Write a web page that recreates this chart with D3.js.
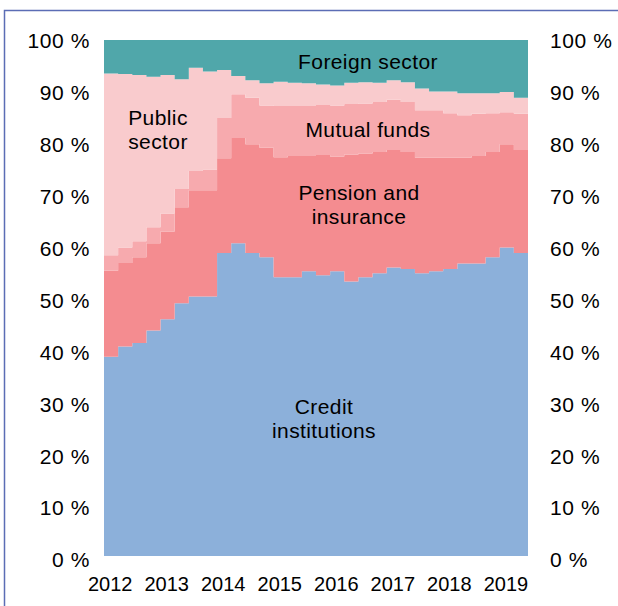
<!DOCTYPE html>
<html>
<head>
<meta charset="utf-8">
<script src="https://cdn.jsdelivr.net/npm/d3@7"></script>
<style>
  body { margin: 0; background: #fff; }
  svg { display: block; }
  text { font-family: "Liberation Sans", Arial, sans-serif; fill: #000; }
</style>
</head>
<body>
<svg id="chart" width="618" height="606"></svg>
<script>
// Quarterly holdings by sector, share of total (%), 2012Q1 – 2019Q2
const quarters = [
  "2012Q1","2012Q2","2012Q3","2012Q4","2013Q1","2013Q2","2013Q3","2013Q4",
  "2014Q1","2014Q2","2014Q3","2014Q4","2015Q1","2015Q2","2015Q3","2015Q4",
  "2016Q1","2016Q2","2016Q3","2016Q4","2017Q1","2017Q2","2017Q3","2017Q4",
  "2018Q1","2018Q2","2018Q3","2018Q4","2019Q1","2019Q2"
];
const yearLabels = ["2012","2013","2014","2015","2016","2017","2018","2019"];
const yTicks = [0,10,20,30,40,50,60,70,80,90,100];

const creditInstitutions = [38.6,40.6,41.3,43.7,45.9,49.0,50.3,50.3,58.7,60.6,58.7,57.9,54.0,54.0,55.2,54.4,55.2,53.2,54.0,54.8,55.9,55.6,54.8,55.2,55.6,56.7,56.7,57.9,59.8,58.7];
const pensionInsurance   = [16.7,16.2,16.6,16.9,17.0,18.6,20.6,20.6,18.4,20.4,21.1,21.2,23.3,23.5,22.3,23.3,22.2,24.6,24.0,23.5,22.8,22.7,22.4,22.0,21.6,20.5,20.8,20.4,20.0,20.0];
const mutualFunds        = [ 3.0, 3.0, 3.1, 3.1, 3.5, 3.5, 3.7, 4.0, 7.8, 8.5, 9.0, 8.2, 9.9, 9.7, 9.7, 9.7, 9.9, 9.8, 9.7, 9.7, 9.7, 9.7, 9.2, 9.2, 8.6, 8.2, 8.2, 7.5, 6.2, 7.0];
const publicSector       = [35.2,33.6,32.2,29.2,26.8,21.3,20.0,19.0, 9.3, 3.5, 3.4, 4.3, 4.7, 4.5, 4.4, 4.0, 3.9, 4.1, 4.1, 3.7, 3.8, 3.8, 4.2, 3.6, 4.2, 4.3, 4.0, 3.9, 3.9, 3.1];
const foreignSector      = [ 6.5, 6.6, 6.8, 7.1, 6.8, 7.6, 5.4, 6.1, 5.8, 7.0, 7.8, 8.4, 8.1, 8.3, 8.4, 8.6, 8.8, 8.3, 8.2, 8.3, 7.8, 8.2, 9.4,10.0,10.0,10.3,10.3,10.3,10.1,11.2];

const keys = ["credit","pension","mutual","public","foreign"];
const colors = {
  credit:  "#8cb0da",
  pension: "#f48c90",
  mutual:  "#f7aaae",
  public:  "#f9cbcd",
  foreign: "#50a7aa"
};

const rows = quarters.map((q, i) => ({
  quarter: q,
  credit: creditInstitutions[i],
  pension: pensionInsurance[i],
  mutual: mutualFunds[i],
  public: publicSector[i],
  foreign: foreignSector[i]
}));

const svg = d3.select("#chart");
const plot = { left: 104, right: 528, top: 40, bottom: 556 };

const x = d3.scaleLinear().domain([0, quarters.length]).range([plot.left, plot.right]);
const y = d3.scaleLinear().domain([0, 100]).range([plot.bottom, plot.top]);
// tick labels sit on a slightly taller ruler than the plotted area
const yLabel = d3.scaleLinear().domain([0, 100]).range([559.5, 40.5]);

// outer frame
svg.append("rect")
  .attr("x", 4.5).attr("y", 10.5).attr("width", 700).attr("height", 700)
  .attr("fill", "none").attr("stroke", "#5b6db5").attr("stroke-width", 1.5);

const series = d3.stack().keys(keys)(rows);

// each quarter is a flat step; repeat the last value to close the final quarter
const area = d3.area()
  .curve(d3.curveStepAfter)
  .x(d => x(d.i))
  .y0(d => y(d.v[0]))
  .y1(d => y(d.v[1]));

svg.append("g").selectAll("path")
  .data(series)
  .join("path")
  .attr("fill", s => colors[s.key])
  .attr("d", s => {
    const pts = s.map((d, i) => ({ i, v: d }));
    pts.push({ i: s.length, v: s[s.length - 1] });
    return area(pts);
  });

// value axes on both sides
const fmt = d => d + " %";
const leftAxis = svg.append("g")
  .attr("transform", `translate(${plot.left},0)`)
  .call(d3.axisLeft(yLabel).tickValues(yTicks).tickFormat(fmt).tickSize(0).tickPadding(14));
const rightAxis = svg.append("g")
  .attr("transform", `translate(${plot.right},0)`)
  .call(d3.axisRight(yLabel).tickValues(yTicks).tickFormat(fmt).tickSize(0).tickPadding(22));

[leftAxis, rightAxis].forEach(g => {
  g.select(".domain").remove();
  g.selectAll("text")
    .attr("font-size", 21).attr("letter-spacing", 0.6).attr("dy", "0.35em")
    .style("font-family", '"Liberation Sans", Arial, sans-serif').attr("fill", "#000");
});

// year labels under the first quarter of each year
const bottomAxis = svg.append("g")
  .attr("transform", `translate(0,${plot.bottom})`)
  .call(d3.axisBottom(x)
    .tickValues(yearLabels.map((_, k) => k * 4 + 0.4))
    .tickFormat((_, k) => yearLabels[k])
    .tickSize(0).tickPadding(21));
bottomAxis.select(".domain").remove();
bottomAxis.selectAll("text")
  .attr("font-size", 20)
  .style("font-family", '"Liberation Sans", Arial, sans-serif').attr("fill", "#000");

// series labels inside the areas
const labels = [
  { lines: ["Foreign sector"], cx: 368, cy: 62 },
  { lines: ["Public", "sector"], cx: 158, cy: 130 },
  { lines: ["Mutual funds"], cx: 368, cy: 130 },
  { lines: ["Pension and", "insurance"], cx: 359, cy: 205 },
  { lines: ["Credit", "institutions"], cx: 324, cy: 419 }
];
const lineH = 24;
labels.forEach(l => {
  const t = svg.append("text")
    .attr("text-anchor", "middle")
    .attr("font-size", 21)
    .attr("letter-spacing", 0.4);
  const y0 = l.cy - (l.lines.length - 1) * lineH / 2;
  l.lines.forEach((s, k) => {
    t.append("tspan").attr("x", l.cx).attr("y", y0 + k * lineH).attr("dy", "0.35em").text(s);
  });
});
</script>
</body>
</html>
